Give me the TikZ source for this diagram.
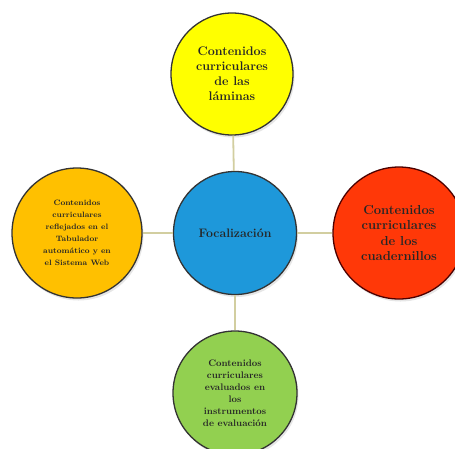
\documentclass[tikz,border=0pt]{standalone}
\usetikzlibrary{shadows}

\definecolor{linkcol}{RGB}{210,206,160}
\definecolor{topyellow}{RGB}{255,255,0}
\definecolor{midblue}{RGB}{30,152,218}
\definecolor{leftorange}{RGB}{255,192,0}
\definecolor{rightred}{RGB}{255,56,8}
\definecolor{botgreen}{RGB}{146,208,80}

\begin{document}
\begin{tikzpicture}[
  x=1pt,y=-1pt,
  topic/.style={circle,draw=black!80,line width=1.3pt,inner sep=0pt,align=center,
    text=black!85,drop shadow={opacity=0.2,shadow xshift=1.5pt,shadow yshift=-2.5pt}},
  link/.style={draw=linkcol,line width=1.8pt}
]
  \useasboundingbox (0,0) rectangle (455,448);

  \node[topic,fill=midblue,minimum size=123pt,font=\bfseries\fontsize{12.3}{14}\selectfont] (focus) at (235,233) {Focalización};
  \node[topic,fill=topyellow,minimum size=122pt,font=\bfseries\fontsize{12.5}{15}\selectfont] (laminas) at (232,74)
    {Contenidos\\curriculares\\de las\\láminas};
  \node[topic,fill=leftorange,minimum size=130pt,font=\bfseries\fontsize{7.8}{12}\selectfont] (tabulador) at (77,233)
    {Contenidos\\curriculares\\reflejados en el\\Tabulador\\automático y en\\el Sistema Web};
  \node[topic,fill=rightred,draw=black!70!red,minimum size=132pt,font=\bfseries\fontsize{13}{15.5}\selectfont] (cuadernillos) at (399,233)
    {Contenidos\\curriculares\\de los\\cuadernillos};
  \node[topic,fill=botgreen,minimum size=124pt,font=\bfseries\fontsize{9.5}{12}\selectfont] (instrumentos) at (235,393)
    {Contenidos\\curriculares\\evaluados en\\los\\instrumentos\\de evaluación};

  \draw[link] (laminas) -- (focus);
  \draw[link] (focus) -- (tabulador);
  \draw[link] (focus) -- (cuadernillos);
  \draw[link] (focus) -- (instrumentos);
\end{tikzpicture}
\end{document}
